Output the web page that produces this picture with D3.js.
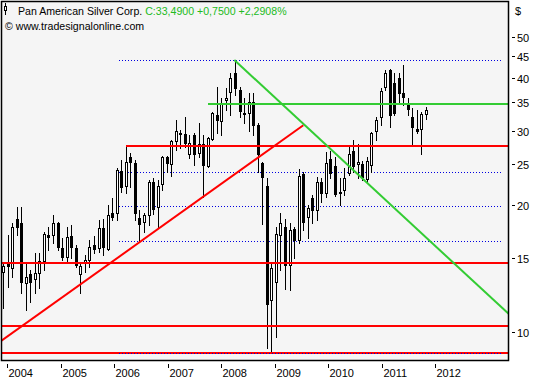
<!DOCTYPE html>
<html><head><meta charset="utf-8">
<script src="https://cdn.jsdelivr.net/npm/d3@7"></script>
<style>
html,body{margin:0;padding:0;background:#fff;}
svg{display:block;font-family:"Liberation Sans",Arial,sans-serif;}
</style>
</head><body>
<svg id="chart" width="533" height="380"></svg>
<script>
// ---- data (monthly candles) ----
const open  = [13.89,14.58,14.19,18.53,18.13,13.08,13.74,13.37,13.81,14.74,16.99,16.99,18.13,15.82,15.07,16.89,15.82,13.74,14.58,14.82,
               16.09,15.82,17.65,15.74,19.15,19.15,24.07,22.18,25.97,25.14,18.63,18.23,18.94,22.67,19.78,22.42,25.97,25.00,28.34,29.60,
               29.44,26.40,29.28,26.54,27.88,24.73,28.65,32.65,31.60,35.42,37.00,41.03,37.41,33.00,33.00,35.04,30.91,25.14,22.18,11.92,
               13.15,16.99,17.74,14.43,17.55,16.53,23.68,18.74,20.78,19.46,22.67,21.35,25.69,24.73,21.47,21.70,23.81,26.83,25.00,25.00,
               23.04,24.87,29.92,32.29,38.02,41.71,38.86,39.93,36.80,34.85,32.29,30.25,30.25,32.90];
const high  = [14.66,16.99,18.13,19.78,19.78,14.58,14.04,15.40,15.40,17.27,17.74,18.94,18.23,16.71,17.74,17.94,16.09,14.58,15.23,16.53,
               16.89,18.43,18.53,20.00,20.78,24.46,25.55,27.73,26.54,25.55,19.46,19.15,22.92,23.17,22.92,26.11,26.11,28.49,31.77,30.08,
               32.29,29.28,29.60,31.25,29.28,28.96,33.18,38.02,35.81,37.82,41.03,44.04,38.02,35.81,36.80,36.80,31.25,25.27,23.17,14.58,
               17.74,19.15,18.53,18.13,17.74,24.33,23.93,20.00,21.12,23.29,23.17,26.69,26.83,25.97,23.17,24.46,27.57,28.49,27.88,25.41,
               25.97,29.76,32.29,37.82,41.71,41.93,41.03,41.03,42.86,35.81,33.91,33.55,33.18,34.10];
const low   = [11.41,12.80,13.51,16.99,12.39,11.29,11.79,12.39,12.73,14.04,15.65,16.26,15.65,14.82,14.58,14.99,14.27,12.39,13.89,14.27,
               15.40,15.48,15.23,15.65,18.43,18.43,21.47,21.35,22.06,18.43,16.35,17.27,17.94,19.04,17.74,21.70,23.93,23.42,26.98,27.28,
               27.43,25.83,24.87,25.97,20.89,24.60,28.49,29.60,29.28,33.55,32.65,36.40,32.29,31.25,29.92,29.28,23.93,18.03,9.18,8.98,
               9.75,14.04,12.66,12.59,14.99,16.26,17.45,16.71,18.13,18.43,20.33,20.89,23.17,21.00,20.00,21.12,23.55,23.93,23.17,22.92,
               22.54,23.93,28.49,30.91,37.41,30.58,32.65,34.85,34.47,32.65,27.73,29.60,26.40,31.94];
const close = [14.35,14.35,17.74,17.74,13.15,13.51,13.15,13.81,14.74,17.08,16.80,18.13,15.91,15.07,16.80,15.91,14.43,14.35,14.82,15.91,
               15.74,17.65,15.91,18.94,18.74,24.20,22.06,25.27,25.27,19.15,18.03,18.94,22.67,19.57,22.18,25.97,25.14,28.34,29.92,29.44,
               28.03,28.03,26.40,27.88,24.87,28.80,33.00,31.77,34.85,35.81,39.93,37.82,33.37,32.82,35.04,30.91,26.40,23.29,11.67,14.19,
               17.08,18.13,14.43,17.45,16.53,23.42,18.23,19.68,19.46,22.67,21.35,25.14,23.81,21.23,21.35,23.17,26.40,24.73,25.27,23.29,
               25.41,29.60,31.77,37.21,41.03,32.65,33.00,36.80,36.01,33.73,30.58,29.92,32.74,33.49];

const yearLabels = [2004,2005,2006,2007,2008,2009,2010,2011,2012];
const priceTicks = [10,15,20,25,30,35,40,45,50];

// horizontal support/resistance lines: level and first candle index (-1 = from left edge)
const redLevels    = [27.62, 14.62, 10.36, 8.95];
const redLevelFrom = [27, -1, -1, -1];
const greenLevels    = [34.6];
const greenLevelFrom = [45];
// dotted retracement levels
const fibLevels = [44.04, 23.9, 19.84, 16.44, 8.95];
const fibFrom = 25.5, fibTo = 109.5;
// trend lines: [candleIndex, price]
const redTrend   = [[-1, 9.44], [66.03, 30.87]];
const greenTrend = [[50.86, 44.04], [113, 10.6]];

const title = "Pan American Silver Corp.";
const source = "\u00a9 www.tradesignalonline.com";

// ---- layout ----
const svg = d3.select("#chart");
const P = {l:1, t:1, r:509, b:360};
const n = close.length;

const x = d3.scaleLinear().domain([0, n-1]).range([3, 426]);
const xYear = d3.scaleLinear().domain([2004, 2012]).range([7, 435]);
const y = d3.scaleLog().domain([8.60, 60.73]).range([P.b, P.t]);

svg.append("defs").append("clipPath").attr("id","plot")
  .append("rect").attr("x",P.l).attr("y",P.t).attr("width",P.r-P.l).attr("height",P.b-P.t);

svg.append("rect").attr("x",P.l).attr("y",P.t).attr("width",P.r-P.l).attr("height",P.b-P.t)
  .attr("fill","#f5f5f5");

const g = svg.append("g").attr("clip-path","url(#plot)");

function dotted(sel, v) {
  sel.append("line")
    .attr("x1", Math.round(x(fibFrom))).attr("x2", Math.round(x(fibTo)))
    .attr("y1", Math.round(y(v))+0.5).attr("y2", Math.round(y(v))+0.5)
    .attr("stroke","#0000e0").attr("stroke-width",1).attr("stroke-dasharray","1,2")
    .attr("shape-rendering","crispEdges");
}
// dotted levels (behind candles)
fibLevels.slice(0,4).forEach(v => dotted(g, v));

// candles
const cg = g.append("g");
d3.range(n).forEach(i => {
  const c = Math.round(x(i));
  const up = close[i] >= open[i];
  cg.append("line").attr("x1",c+0.5).attr("x2",c+0.5)
    .attr("y1",Math.round(y(high[i]))).attr("y2",Math.round(y(low[i]))+1)
    .attr("stroke","#000").attr("stroke-width",1);
  const yt = Math.round(y(Math.max(open[i],close[i])));
  const yb = Math.round(y(Math.min(open[i],close[i])));
  cg.append("rect").attr("x",c-0.5).attr("y",yt+0.5).attr("width",2).attr("height",Math.max(1,yb-yt))
    .attr("fill", up ? "#fff" : "#000").attr("stroke","#000").attr("stroke-width",1);
});

// red horizontal lines
g.selectAll("line.red").data(redLevels).join("line")
  .attr("x1",(d,i) => redLevelFrom[i] < 0 ? P.l : x(redLevelFrom[i])).attr("x2",P.r)
  .attr("y1",d => Math.round(y(d))).attr("y2",d => Math.round(y(d)))
  .attr("stroke","#ff0000").attr("stroke-width",2).attr("shape-rendering","crispEdges");
// bottom dotted over the red
dotted(g, fibLevels[4]);

// green horizontal line
g.selectAll("line.green").data(greenLevels).join("line")
  .attr("x1",(d,i) => x(greenLevelFrom[i])).attr("x2",P.r)
  .attr("y1",d => Math.round(y(d))).attr("y2",d => Math.round(y(d)))
  .attr("stroke","#33cc33").attr("stroke-width",2).attr("shape-rendering","crispEdges");

// trend lines
const tl = d3.line().x(d => x(d[0])).y(d => y(d[1]));
g.append("path").attr("d",tl(redTrend)).attr("fill","none").attr("stroke","#ff0000").attr("stroke-width",2);
g.append("path").attr("d",tl(greenTrend)).attr("fill","none").attr("stroke","#33cc33").attr("stroke-width",2);

// frame
svg.append("rect").attr("x",P.l+0.5).attr("y",P.t+0.5).attr("width",P.r-P.l-1).attr("height",P.b-P.t)
  .attr("fill","none").attr("stroke","#000").attr("stroke-width",1.5);

// y axis (right)
const ya = svg.append("g");
priceTicks.forEach(v => {
  const yy = Math.round(y(v))+0.5;
  ya.append("line").attr("x1",512).attr("x2",515).attr("y1",yy).attr("y2",yy).attr("stroke","#000");
  ya.append("text").attr("x",517).attr("y",yy+4).attr("font-size",11).attr("fill","#000").text(v);
});
svg.append("text").attr("x",515).attr("y",15).attr("font-size",11).attr("fill","#000").text("$");

// x axis (years)
yearLabels.forEach(yr => {
  const xx = Math.round(xYear(yr))+0.5;
  svg.append("line").attr("x1",xx).attr("x2",xx).attr("y1",364).attr("y2",368).attr("stroke","#000");
  svg.append("text").attr("x",xx+1).attr("y",377).attr("font-size",11).attr("fill","#000").text(yr);
});

// header
const last = close[n-1], prev = close[n-2];
const fmt = v => d3.format(".4f")(v).replace(".", ",");
const chg = last - prev, pct = chg / prev * 100;
const hdr = svg.append("text").attr("x",18).attr("y",15).attr("font-size",10.6);
hdr.append("tspan").attr("fill","#000").text(title + " ");
hdr.append("tspan").attr("fill","#22bb22")
  .text("C:" + fmt(last) + " " + (chg>=0?"+":"") + fmt(chg) + " " + (pct>=0?"+":"") + fmt(pct) + "%");
svg.append("text").attr("x",5).attr("y",30).attr("font-size",10.6).attr("fill","#000").text(source);
// header candle icon
svg.append("line").attr("x1",5.5).attr("x2",5.5).attr("y1",3).attr("y2",15).attr("stroke","#000");
svg.append("rect").attr("x",4.5).attr("y",6.5).attr("width",2).attr("height",4).attr("fill","#fff").attr("stroke","#000");
</script>
</body></html>
